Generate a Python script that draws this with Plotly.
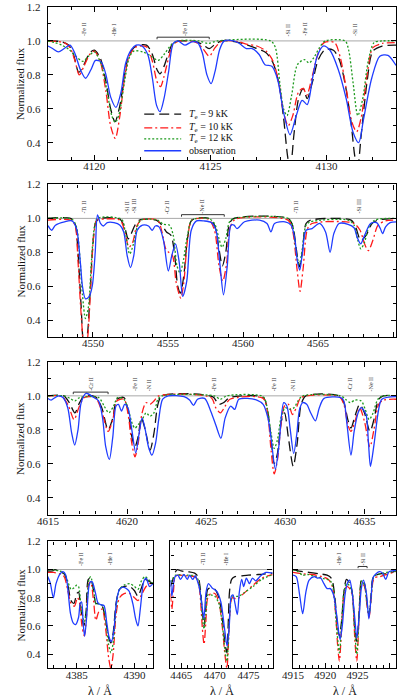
import plotly.graph_objects as go

W, H = 399, 700

# ---- data (wavelength in Angstrom, normalized flux) ----
# panel 1: 4118-4133
P1_OBS = [(4118.0, 0.97), (4118.2, 0.955), (4118.45, 0.935), (4118.7, 0.955), (4118.95, 0.975),
          (4119.15, 0.93), (4119.4, 0.83), (4119.62, 0.78), (4119.85, 0.83), (4120.05, 0.885),
          (4120.3, 0.875), (4120.5, 0.8), (4120.7, 0.67), (4120.93, 0.608), (4121.15, 0.7),
          (4121.35, 0.87), (4121.6, 0.95), (4121.8, 0.975), (4122.05, 0.97), (4122.3, 0.92),
          (4122.5, 0.78), (4122.68, 0.62), (4122.83, 0.583), (4123.0, 0.66), (4123.2, 0.82),
          (4123.4, 0.985), (4123.6, 1.0), (4123.9, 0.975), (4124.2, 0.995), (4124.45, 0.99),
          (4124.65, 0.93), (4124.85, 0.8), (4125.03, 0.748), (4125.2, 0.82), (4125.4, 0.95),
          (4125.6, 1.0), (4126.0, 1.0), (4126.25, 0.985), (4126.55, 0.955), (4126.8, 0.955),
          (4127.1, 0.92), (4127.35, 0.86), (4127.65, 0.85), (4127.9, 0.77), (4128.15, 0.58),
          (4128.43, 0.447), (4128.7, 0.56), (4128.95, 0.65), (4129.17, 0.625), (4129.4, 0.78),
          (4129.6, 0.91), (4129.86, 0.97), (4130.15, 0.945), (4130.5, 0.835), (4130.85, 0.66),
          (4131.15, 0.46), (4131.39, 0.4), (4131.6, 0.54), (4131.95, 0.78), (4132.3, 0.91),
          (4132.65, 0.915), (4133.0, 0.855)]
P1_T9 = [(4118.0, 1.0), (4118.6, 0.995), (4118.9, 0.975), (4119.1, 0.92), (4119.33, 0.815),
         (4119.55, 0.86), (4119.8, 0.93), (4120.0, 0.945), (4120.25, 0.9), (4120.5, 0.76),
         (4120.7, 0.6), (4120.89, 0.524), (4121.1, 0.62), (4121.3, 0.8), (4121.5, 0.92),
         (4121.8, 0.97), (4122.25, 0.975), (4122.5, 0.92), (4122.7, 0.83), (4122.83, 0.806),
         (4123.0, 0.85), (4123.2, 0.93), (4123.4, 0.99), (4123.7, 1.0), (4124.4, 0.995),
         (4124.7, 0.975), (4124.95, 0.955), (4125.2, 0.98), (4125.5, 1.0), (4126.1, 0.995),
         (4126.6, 0.975), (4127.0, 0.955), (4127.4, 0.93), (4127.7, 0.87), (4127.95, 0.75),
         (4128.15, 0.55), (4128.35, 0.3), (4128.45, 0.26), (4128.6, 0.45), (4128.8, 0.66),
         (4129.0, 0.72), (4129.17, 0.66), (4129.4, 0.76), (4129.65, 0.89), (4129.95, 0.95),
         (4130.3, 0.945), (4130.55, 0.89), (4130.8, 0.75), (4131.05, 0.53), (4131.25, 0.3),
         (4131.35, 0.27), (4131.5, 0.45), (4131.75, 0.76), (4132.0, 0.94), (4132.4, 0.97),
         (4133.0, 0.975)]
P1_T10 = [(4118.0, 1.0), (4118.7, 0.99), (4118.95, 0.96), (4119.15, 0.89), (4119.35, 0.8),
          (4119.55, 0.85), (4119.8, 0.92), (4120.0, 0.94), (4120.25, 0.88), (4120.5, 0.7),
          (4120.7, 0.5), (4120.9, 0.425), (4121.1, 0.56), (4121.3, 0.78), (4121.5, 0.91),
          (4121.8, 0.965), (4122.25, 0.965), (4122.5, 0.88), (4122.7, 0.76), (4122.85, 0.73),
          (4123.0, 0.79), (4123.2, 0.9), (4123.4, 0.98), (4123.7, 1.0), (4124.4, 0.99),
          (4124.7, 0.95), (4124.95, 0.91), (4125.2, 0.96), (4125.5, 1.0), (4126.2, 0.995),
          (4126.6, 0.98), (4127.0, 0.97), (4127.4, 0.94), (4127.7, 0.88), (4127.95, 0.75),
          (4128.15, 0.58), (4128.35, 0.5), (4128.55, 0.56), (4128.8, 0.7), (4129.0, 0.72),
          (4129.15, 0.68), (4129.4, 0.8), (4129.65, 0.93), (4129.9, 0.99), (4130.35, 0.99),
          (4130.6, 0.9), (4130.85, 0.72), (4131.1, 0.52), (4131.3, 0.465), (4131.5, 0.55),
          (4131.75, 0.8), (4132.0, 0.96), (4132.4, 0.985), (4133.0, 0.99)]
P1_T12 = [(4118.0, 1.0), (4118.3, 0.99), (4118.6, 0.975), (4118.9, 0.95), (4119.2, 0.91),
          (4119.5, 0.88), (4119.75, 0.91), (4120.0, 0.935), (4120.3, 0.86), (4120.55, 0.7),
          (4120.75, 0.56), (4120.9, 0.52), (4121.05, 0.56), (4121.3, 0.76), (4121.5, 0.9),
          (4121.7, 0.94), (4122.1, 0.935), (4122.45, 0.91), (4122.75, 0.885), (4123.0, 0.92),
          (4123.3, 0.975), (4123.6, 1.0), (4124.5, 1.0), (4124.9, 0.985), (4125.3, 1.0),
          (4127.6, 1.0), (4127.8, 0.96), (4128.0, 0.74), (4128.15, 0.6), (4128.3, 0.56),
          (4128.5, 0.68), (4128.75, 0.86), (4129.05, 0.89), (4129.25, 0.87), (4129.45, 0.9),
          (4129.7, 0.96), (4129.95, 1.0), (4130.8, 1.0), (4130.95, 0.95), (4131.15, 0.75),
          (4131.35, 0.56), (4131.55, 0.65), (4131.8, 0.88), (4132.05, 0.99), (4132.4, 1.0),
          (4133.0, 1.0)]

# panel 2: 4547-4570
P2_OBS = [(4547.0, 0.957), (4547.25, 0.93), (4547.5, 0.96), (4548.1, 0.98), (4548.6, 0.985),
          (4548.9, 0.94), (4549.15, 0.75), (4549.3, 0.6), (4549.5, 0.526), (4549.75, 0.54),
          (4549.95, 0.6), (4550.15, 0.8), (4550.3, 1.02), (4550.5, 0.97), (4550.7, 0.955),
          (4550.95, 0.975), (4551.4, 0.975), (4551.8, 0.96), (4552.05, 0.92), (4552.28, 0.78),
          (4552.5, 0.71), (4552.72, 0.78), (4552.95, 0.93), (4553.3, 0.96), (4553.7, 0.955),
          (4553.95, 0.93), (4554.15, 0.955), (4554.4, 0.95), (4554.7, 0.87), (4555.02, 0.69),
          (4555.25, 0.78), (4555.5, 0.85), (4555.75, 0.74), (4555.98, 0.54), (4556.25, 0.63),
          (4556.55, 0.93), (4556.9, 0.985), (4557.4, 0.985), (4557.9, 0.975), (4558.2, 0.93),
          (4558.45, 0.74), (4558.7, 0.55), (4558.95, 0.72), (4559.2, 0.96), (4559.4, 0.96),
          (4559.6, 0.94), (4560.1, 0.98), (4561.1, 0.99), (4561.6, 0.97), (4561.86, 0.92),
          (4562.1, 0.97), (4562.8, 0.98), (4563.2, 0.96), (4563.45, 0.88), (4563.62, 0.75),
          (4563.78, 0.695), (4563.95, 0.79), (4564.2, 0.93), (4564.6, 0.94), (4565.1, 0.97),
          (4565.5, 0.92), (4565.8, 0.8), (4566.05, 0.91), (4566.4, 0.97), (4567.0, 0.965),
          (4567.4, 0.945), (4567.6, 0.89), (4567.84, 0.85), (4568.1, 0.9), (4568.5, 0.97),
          (4568.9, 0.975), (4569.15, 0.94), (4569.3, 0.91), (4569.5, 0.95), (4569.8, 0.975),
          (4570.2, 0.98)]
P2_T9 = [(4547.0, 1.0), (4548.5, 1.0), (4548.8, 0.97), (4549.0, 0.8), (4549.2, 0.5),
         (4549.4, 0.25), (4549.6, 0.3), (4549.8, 0.55), (4550.0, 0.85), (4550.2, 0.98),
         (4550.5, 1.0), (4551.8, 0.995), (4552.1, 0.95), (4552.35, 0.88), (4552.55, 0.91),
         (4552.8, 0.96), (4553.1, 0.99), (4554.2, 0.99), (4554.6, 0.96), (4554.9, 0.92),
         (4555.2, 0.9), (4555.45, 0.78), (4555.65, 0.6), (4555.83, 0.56), (4556.05, 0.66),
         (4556.3, 0.88), (4556.6, 0.99), (4557.7, 1.0), (4558.1, 0.96), (4558.4, 0.82),
         (4558.62, 0.72), (4558.85, 0.8), (4559.1, 0.97), (4559.4, 1.0), (4563.0, 1.0),
         (4563.3, 0.96), (4563.55, 0.82), (4563.75, 0.715), (4563.95, 0.8), (4564.2, 0.97),
         (4564.5, 0.99), (4567.2, 0.99), (4567.5, 0.95), (4567.85, 0.87), (4568.2, 0.9),
         (4568.6, 0.97), (4569.0, 0.99), (4570.2, 1.0)]
P2_T10 = [(4547.0, 0.99), (4548.5, 0.99), (4548.8, 0.96), (4549.0, 0.75), (4549.2, 0.45),
          (4549.45, 0.2), (4549.65, 0.3), (4549.85, 0.6), (4550.05, 0.9), (4550.25, 0.99),
          (4550.5, 0.995), (4551.8, 0.99), (4552.1, 0.93), (4552.4, 0.83), (4552.65, 0.86),
          (4552.9, 0.95), (4553.2, 0.99), (4554.3, 0.99), (4554.6, 0.92), (4554.85, 0.82),
          (4555.05, 0.8), (4555.3, 0.78), (4555.55, 0.62), (4555.85, 0.53), (4556.05, 0.62),
          (4556.3, 0.87), (4556.6, 0.99), (4557.7, 0.995), (4558.1, 0.93), (4558.4, 0.72),
          (4558.65, 0.63), (4558.9, 0.73), (4559.15, 0.95), (4559.5, 0.995), (4563.0, 0.99),
          (4563.3, 0.93), (4563.6, 0.7), (4563.8, 0.57), (4564.0, 0.7), (4564.3, 0.94),
          (4564.6, 0.97), (4566.9, 0.98), (4567.4, 0.97), (4567.8, 0.93), (4568.1, 0.85),
          (4568.35, 0.81), (4568.65, 0.87), (4569.0, 0.96), (4569.5, 0.985), (4570.2, 0.99)]
P2_T12 = [(4547.0, 1.0), (4548.6, 0.995), (4548.9, 0.95), (4549.1, 0.8), (4549.3, 0.55),
          (4549.5, 0.41), (4549.7, 0.48), (4549.9, 0.75), (4550.1, 0.95), (4550.3, 1.0),
          (4551.9, 0.995), (4552.15, 0.92), (4552.45, 0.79), (4552.7, 0.85), (4552.95, 0.95),
          (4553.2, 0.99), (4554.3, 0.99), (4554.7, 0.965), (4555.1, 0.96), (4555.35, 0.9),
          (4555.6, 0.72), (4555.8, 0.68), (4556.0, 0.74), (4556.3, 0.9), (4556.6, 0.99),
          (4557.7, 1.0), (4558.1, 0.97), (4558.4, 0.88), (4558.6, 0.83), (4558.85, 0.88),
          (4559.1, 0.98), (4559.4, 1.0), (4563.0, 1.0), (4563.3, 0.96), (4563.55, 0.8),
          (4563.75, 0.73), (4563.95, 0.82), (4564.2, 0.96), (4564.5, 0.98), (4567.0, 0.99),
          (4567.4, 0.96), (4567.65, 0.87), (4567.85, 0.82), (4568.1, 0.86), (4568.4, 0.95),
          (4568.8, 0.99), (4570.2, 1.0)]

# panel 3: 4615-4637
P3_OBS = [(4615.0, 0.985), (4615.2, 0.975), (4615.45, 0.99), (4615.7, 1.0), (4615.95, 0.99),
          (4616.25, 0.93), (4616.5, 0.78), (4616.69, 0.71), (4616.9, 0.8), (4617.1, 0.96),
          (4617.4, 1.015), (4617.9, 0.99), (4618.2, 0.97), (4618.45, 0.87), (4618.65, 0.7),
          (4618.88, 0.625), (4619.1, 0.76), (4619.3, 0.94), (4619.45, 0.95), (4619.65, 0.91),
          (4619.85, 0.95), (4620.05, 0.93), (4620.3, 0.8), (4620.55, 0.664), (4620.78, 0.79),
          (4620.95, 0.87), (4621.15, 0.8), (4621.35, 0.7), (4621.57, 0.65), (4621.8, 0.72),
          (4622.0, 0.86), (4622.25, 0.98), (4622.6, 1.0), (4623.6, 0.995), (4623.95, 0.975),
          (4624.2, 0.944), (4624.45, 0.98), (4624.9, 0.985), (4625.3, 0.907), (4625.6, 0.83),
          (4625.93, 0.75), (4626.2, 0.87), (4626.55, 0.94), (4626.8, 0.92), (4627.06, 0.98),
          (4627.6, 0.985), (4628.2, 0.975), (4628.6, 0.95), (4628.9, 0.87), (4629.1, 0.75),
          (4629.37, 0.567), (4629.6, 0.71), (4629.9, 0.96), (4630.1, 0.94), (4630.3, 0.81),
          (4630.53, 0.66), (4630.72, 0.77), (4630.9, 0.92), (4631.1, 0.96), (4631.35, 0.95),
          (4631.6, 0.9), (4631.9, 0.853), (4632.15, 0.93), (4632.45, 0.985), (4633.5, 0.99),
          (4633.7, 0.97), (4633.9, 0.83), (4634.15, 0.65), (4634.35, 0.79), (4634.6, 0.9),
          (4634.8, 0.93), (4635.1, 0.89), (4635.25, 0.73), (4635.38, 0.585), (4635.6, 0.71),
          (4635.9, 0.92), (4636.1, 0.98), (4637.0, 0.995)]
P3_T9 = [(4615.0, 1.0), (4616.0, 1.0), (4616.35, 0.96), (4616.7, 0.9), (4617.0, 0.96),
         (4617.3, 1.0), (4618.0, 0.995), (4618.4, 0.93), (4618.8, 0.8), (4619.1, 0.87),
         (4619.35, 0.98), (4619.8, 0.99), (4620.05, 0.92), (4620.3, 0.76), (4620.5, 0.7),
         (4620.7, 0.76), (4620.9, 0.87), (4621.15, 0.8), (4621.45, 0.68), (4621.7, 0.78),
         (4621.95, 0.95), (4622.2, 1.0), (4625.4, 0.995), (4625.8, 0.95), (4626.1, 0.96),
         (4626.5, 0.99), (4628.6, 0.99), (4628.9, 0.9), (4629.15, 0.7), (4629.3, 0.6),
         (4629.5, 0.66), (4629.75, 0.85), (4629.95, 0.9), (4630.2, 0.75), (4630.5, 0.585),
         (4630.75, 0.72), (4631.0, 0.95), (4631.3, 1.0), (4633.4, 1.0), (4633.7, 0.96),
         (4633.95, 0.86), (4634.15, 0.81), (4634.4, 0.88), (4634.7, 0.95), (4635.0, 0.9),
         (4635.35, 0.79), (4635.6, 0.86), (4635.9, 0.98), (4636.2, 1.0), (4637.0, 1.0)]
P3_T10 = [(4615.0, 1.0), (4615.9, 0.995), (4616.3, 0.94), (4616.65, 0.86), (4616.95, 0.93),
          (4617.3, 0.99), (4618.0, 0.99), (4618.4, 0.91), (4618.8, 0.79), (4619.1, 0.86),
          (4619.35, 0.97), (4619.8, 0.98), (4620.05, 0.9), (4620.3, 0.72), (4620.5, 0.64),
          (4620.7, 0.72), (4620.95, 0.9), (4621.2, 0.96), (4621.45, 0.95), (4621.7, 0.97),
          (4622.0, 1.0), (4625.3, 0.99), (4625.6, 0.93), (4625.9, 0.9), (4626.2, 0.94),
          (4626.5, 0.98), (4628.6, 0.985), (4628.9, 0.88), (4629.1, 0.68), (4629.3, 0.54),
          (4629.5, 0.62), (4629.75, 0.85), (4629.95, 0.94), (4630.2, 0.95), (4630.45, 0.89),
          (4630.7, 0.93), (4631.0, 0.99), (4633.4, 0.995), (4633.7, 0.95), (4633.95, 0.83),
          (4634.15, 0.79), (4634.4, 0.85), (4634.7, 0.93), (4635.0, 0.85), (4635.35, 0.7),
          (4635.6, 0.8), (4635.9, 0.95), (4636.2, 0.975), (4637.0, 0.98)]
P3_T12 = [(4615.0, 1.0), (4616.0, 1.0), (4616.4, 0.985), (4616.7, 0.97), (4617.0, 0.99),
          (4618.2, 0.99), (4618.55, 0.94), (4618.85, 0.9), (4619.15, 0.94), (4619.4, 0.99),
          (4619.8, 0.98), (4620.1, 0.91), (4620.35, 0.83), (4620.5, 0.81), (4620.7, 0.83),
          (4620.95, 0.86), (4621.2, 0.9), (4621.45, 0.88), (4621.7, 0.9), (4621.95, 0.98),
          (4622.2, 1.0), (4625.5, 1.0), (4625.9, 0.98), (4626.3, 1.0), (4628.6, 0.995),
          (4628.85, 0.93), (4629.1, 0.78), (4629.3, 0.69), (4629.5, 0.74), (4629.75, 0.88),
          (4630.0, 0.93), (4630.3, 0.92), (4630.55, 0.93), (4630.8, 0.97), (4631.1, 1.0),
          (4633.5, 1.0), (4633.8, 0.98), (4634.1, 0.96), (4634.4, 0.975), (4634.8, 0.97),
          (4635.05, 0.92), (4635.3, 0.86), (4635.55, 0.9), (4635.85, 0.98), (4636.2, 1.0),
          (4637.0, 1.0)]

# panel 4a: 4382.5-4391.6
P4A_OBS = [(4382.48, 0.95), (4382.7, 0.906), (4382.97, 0.8), (4383.2, 0.9), (4383.55, 0.97),
           (4383.8, 0.985), (4384.05, 0.96), (4384.26, 0.83), (4384.45, 0.69), (4384.7, 0.62),
           (4384.9, 0.61), (4385.15, 0.66), (4385.3, 0.76), (4385.42, 0.77), (4385.55, 0.62),
           (4385.68, 0.527), (4385.85, 0.66), (4386.05, 0.88), (4386.2, 0.915), (4386.35, 0.91),
           (4386.6, 0.84), (4386.85, 0.76), (4387.1, 0.75), (4387.35, 0.745), (4387.6, 0.62),
           (4387.8, 0.52), (4388.0, 0.49), (4388.2, 0.56), (4388.45, 0.78), (4388.7, 0.86),
           (4389.0, 0.876), (4389.5, 0.85), (4389.85, 0.76), (4390.1, 0.65), (4390.3, 0.6),
           (4390.5, 0.72), (4390.8, 0.915), (4391.0, 0.94), (4391.3, 0.88), (4391.6, 0.9)]
P4A_T9 = [(4382.5, 0.99), (4382.9, 0.99), (4383.1, 1.0), (4383.5, 0.985), (4383.9, 0.97),
          (4384.2, 0.9), (4384.5, 0.78), (4384.75, 0.76), (4385.0, 0.83), (4385.15, 0.84),
          (4385.35, 0.72), (4385.6, 0.6), (4385.8, 0.7), (4386.0, 0.93), (4386.2, 0.94),
          (4386.45, 0.85), (4386.65, 0.76), (4386.9, 0.76), (4387.2, 0.74), (4387.5, 0.64),
          (4387.75, 0.52), (4387.95, 0.48), (4388.15, 0.55), (4388.4, 0.76), (4388.7, 0.86),
          (4389.1, 0.88), (4389.6, 0.88), (4390.0, 0.85), (4390.3, 0.81), (4390.6, 0.87),
          (4390.9, 0.93), (4391.2, 0.92), (4391.6, 0.9)]
P4A_T10 = [(4382.5, 0.98), (4383.0, 0.98), (4383.5, 0.97), (4383.9, 0.95), (4384.2, 0.86),
           (4384.5, 0.76), (4384.8, 0.74), (4385.05, 0.8), (4385.2, 0.78), (4385.45, 0.6),
           (4385.65, 0.53), (4385.85, 0.68), (4386.05, 0.9), (4386.2, 0.91), (4386.45, 0.78),
           (4386.65, 0.64), (4386.9, 0.7), (4387.2, 0.72), (4387.5, 0.58), (4387.75, 0.38),
           (4387.95, 0.3), (4388.15, 0.4), (4388.4, 0.68), (4388.7, 0.8), (4389.1, 0.83),
           (4389.6, 0.83), (4390.0, 0.8), (4390.3, 0.78), (4390.6, 0.82), (4391.0, 0.88),
           (4391.3, 0.9), (4391.6, 0.89)]
P4A_T12 = [(4382.5, 1.0), (4383.5, 0.99), (4383.9, 0.975), (4384.2, 0.92), (4384.5, 0.86),
           (4384.75, 0.87), (4385.0, 0.89), (4385.15, 0.88), (4385.4, 0.72), (4385.65, 0.63),
           (4385.85, 0.72), (4386.05, 0.93), (4386.2, 0.95), (4386.45, 0.86), (4386.7, 0.75),
           (4386.95, 0.76), (4387.25, 0.74), (4387.5, 0.64), (4387.75, 0.47), (4387.95, 0.41),
           (4388.15, 0.48), (4388.4, 0.72), (4388.7, 0.86), (4389.1, 0.89), (4389.6, 0.9),
           (4390.0, 0.88), (4390.3, 0.86), (4390.6, 0.92), (4390.9, 0.95), (4391.2, 0.93),
           (4391.6, 0.9)]

# panel 4b: 4463.4-4478.6
P4B_OBS = [(4463.4, 0.927), (4463.6, 0.81), (4463.85, 0.9), (4464.1, 0.95), (4464.5, 0.96),
           (4464.9, 0.93), (4465.4, 0.965), (4465.9, 0.93), (4466.25, 0.96), (4466.7, 0.93),
           (4467.1, 0.955), (4467.4, 0.92), (4467.75, 0.86), (4468.05, 0.76), (4468.37, 0.656),
           (4468.7, 0.84), (4469.05, 0.9), (4469.6, 0.87), (4470.3, 0.845), (4470.9, 0.77),
           (4471.4, 0.6), (4471.83, 0.457), (4472.15, 0.6), (4472.45, 0.81), (4472.7, 0.82),
           (4473.0, 0.76), (4473.35, 0.68), (4473.65, 0.84), (4474.0, 0.93), (4474.3, 0.88),
           (4474.7, 0.94), (4475.15, 0.9), (4475.6, 0.94), (4476.1, 0.92), (4476.7, 0.95),
           (4477.6, 0.98), (4478.6, 0.975)]
P4B_T9 = [(4463.4, 0.88), (4463.7, 0.92), (4464.1, 0.98), (4464.4, 1.0), (4465.0, 0.99),
          (4466.0, 0.985), (4467.0, 0.975), (4467.5, 0.95), (4467.85, 0.86), (4468.15, 0.7),
          (4468.4, 0.6), (4468.65, 0.72), (4468.95, 0.86), (4469.4, 0.87), (4470.0, 0.86),
          (4470.6, 0.8), (4471.1, 0.66), (4471.5, 0.48), (4471.8, 0.41), (4472.0, 0.62),
          (4472.2, 0.85), (4472.5, 0.93), (4473.0, 0.95), (4474.0, 0.955), (4475.0, 0.96),
          (4476.5, 0.965), (4478.6, 0.975)]
P4B_T10 = [(4463.4, 0.83), (4463.6, 0.72), (4463.85, 0.85), (4464.1, 0.95), (4464.5, 0.96),
           (4466.0, 0.955), (4467.0, 0.95), (4467.5, 0.92), (4467.85, 0.8), (4468.15, 0.58),
           (4468.4, 0.47), (4468.65, 0.62), (4468.95, 0.8), (4469.4, 0.83), (4470.0, 0.83),
           (4470.6, 0.77), (4471.1, 0.6), (4471.5, 0.4), (4471.8, 0.3), (4472.0, 0.45),
           (4472.25, 0.7), (4472.6, 0.8), (4473.3, 0.79), (4474.3, 0.83), (4475.7, 0.89),
           (4477.0, 0.94), (4478.6, 0.965)]
P4B_T12 = [(4463.4, 0.91), (4463.8, 0.94), (4464.1, 0.96), (4466.0, 0.96), (4467.0, 0.955),
           (4467.5, 0.93), (4467.85, 0.84), (4468.15, 0.66), (4468.4, 0.58), (4468.65, 0.68),
           (4468.95, 0.82), (4469.4, 0.82), (4470.0, 0.81), (4470.6, 0.76), (4471.1, 0.62),
           (4471.5, 0.43), (4471.8, 0.35), (4472.0, 0.47), (4472.25, 0.7), (4472.6, 0.81),
           (4473.5, 0.81), (4474.5, 0.84), (4475.7, 0.88), (4477.0, 0.93), (4478.6, 0.965)]

# panel 4c: 4915-4931
P4C_OBS = [(4915.0, 0.96), (4915.5, 0.95), (4916.0, 0.83), (4916.5, 0.687), (4917.0, 0.84),
           (4917.5, 0.925), (4918.3, 0.95), (4918.8, 0.94), (4919.3, 0.94), (4919.8, 0.9),
           (4920.3, 0.865), (4920.8, 0.865), (4921.3, 0.82), (4921.8, 0.67), (4922.3, 0.504),
           (4922.65, 0.6), (4923.1, 0.83), (4923.5, 0.91), (4923.8, 0.925), (4924.2, 0.83),
           (4924.6, 0.65), (4924.9, 0.515), (4925.3, 0.69), (4925.6, 0.865), (4925.95, 0.925),
           (4926.4, 0.83), (4926.77, 0.65), (4927.1, 0.79), (4927.5, 0.95), (4928.4, 0.985),
           (4928.9, 0.975), (4929.4, 0.93), (4929.9, 0.985), (4931.0, 0.995)]
P4C_T9 = [(4915.0, 1.0), (4916.5, 0.985), (4917.5, 0.98), (4919.0, 0.97), (4920.3, 0.96),
          (4921.0, 0.935), (4921.5, 0.8), (4921.9, 0.6), (4922.2, 0.53), (4922.55, 0.64),
          (4922.95, 0.86), (4923.3, 0.93), (4923.7, 0.91), (4924.15, 0.85), (4924.55, 0.6),
          (4924.9, 0.49), (4925.25, 0.69), (4925.65, 0.93), (4926.1, 0.9), (4926.45, 0.78),
          (4926.8, 0.68), (4927.1, 0.81), (4927.5, 0.95), (4928.5, 0.97), (4929.5, 0.97),
          (4931.0, 0.99)]
P4C_T10 = [(4915.0, 0.98), (4916.5, 0.97), (4918.0, 0.965), (4919.5, 0.95), (4920.5, 0.93),
           (4921.1, 0.88), (4921.6, 0.7), (4921.95, 0.45), (4922.2, 0.35), (4922.5, 0.55),
           (4922.9, 0.82), (4923.3, 0.88), (4923.7, 0.87), (4924.2, 0.82), (4924.6, 0.5),
           (4924.9, 0.35), (4925.25, 0.65), (4925.65, 0.9), (4926.1, 0.88), (4926.45, 0.76),
           (4926.8, 0.66), (4927.15, 0.8), (4927.6, 0.94), (4928.5, 0.95), (4929.5, 0.965),
           (4931.0, 0.985)]
P4C_T12 = [(4915.0, 1.0), (4915.8, 0.985), (4916.5, 0.96), (4917.3, 0.965), (4918.5, 0.95),
           (4919.8, 0.935), (4920.8, 0.92), (4921.3, 0.85), (4921.75, 0.6), (4922.2, 0.41),
           (4922.5, 0.58), (4922.9, 0.84), (4923.3, 0.9), (4923.7, 0.89), (4924.2, 0.83),
           (4924.6, 0.55), (4924.9, 0.4), (4925.25, 0.66), (4925.65, 0.92), (4926.1, 0.89),
           (4926.45, 0.77), (4926.8, 0.68), (4927.15, 0.81), (4927.55, 0.95), (4928.5, 0.97),
           (4931.0, 0.99)]

# line identifications (wavelength, ion) and bracket spans
LINES_1 = [(4119.55, "Fe II"), (4120.83, "He I"), (4123.9, "Fe II"), (4128.33, "Si II"),
           (4129.1, "Fe II"), (4131.2, "Si II")]
BRACKETS_1 = [(4122.7, 4124.95)]
LINES_2 = [(4549.42, "Ti II"), (4552.3, "Si II"), (4552.74, "Si III"), (4554.9, "Cr II"),
           (4557.3, "Ne II"), (4563.55, "Ti II"), (4567.75, "Si III")]
BRACKETS_2 = [(4555.9, 4558.75)]
LINES_3 = [(4617.7, "Cr II"), (4620.5, "Fe II"), (4621.4, "N II"), (4625.5, "Fe II"),
           (4629.3, "Fe II"), (4630.5, "N II"), (4634.1, "Cr II"), (4635.4, "Ne II")]
BRACKETS_3 = [(4616.6, 4618.8)]
LINES_4A = [(4385.4, "Fe II"), (4387.9, "He I")]
LINES_4B = [(4468.3, "Ti II"), (4471.6, "He I")]
LINES_4C = [(4922.2, "He I"), (4925.8, "Si II")]
BRACKETS_4C = [(4925.1, 4926.5)]

LEGEND_LABELS = ["<i>T</i><sub>e</sub> = 9 kK", "<i>T</i><sub>e</sub> = 10 kK",
                 "<i>T</i><sub>e</sub> = 12 kK", "observation"]

X_RANGES = [(4118.0, 4133.0), (4547.0, 4570.2), (4615.0, 4637.0),
            (4382.5, 4391.6), (4463.4, 4478.6), (4915.0, 4931.0)]
Y_RANGE = (0.3, 1.2)

# ---- layout helpers ----
# panel boxes in pixels: left, right, top, bottom
BOXES = [(38, 396, 1, 155), (38, 396, 180, 334), (38, 396, 359, 513),
         (38, 146, 540, 668), (164, 269, 540, 668), (290, 396, 540, 668)]

FONT = "Liberation Serif, Times New Roman, serif"
STYLES = [dict(color="#111111", dash="10px,5px"),
          dict(color="#ff1a1a", dash="8px,3px,2px,3px"),
          dict(color="#1d9a1d", dash="2px,2px"),
          dict(color="#1f3cff", dash="solid")]


def fx(px):
    return px / W


def fy(py):
    return 1 - py / H


panels = [
    (P1_T9, P1_T10, P1_T12, P1_OBS, LINES_1, BRACKETS_1),
    (P2_T9, P2_T10, P2_T12, P2_OBS, LINES_2, BRACKETS_2),
    (P3_T9, P3_T10, P3_T12, P3_OBS, LINES_3, BRACKETS_3),
    (P4A_T9, P4A_T10, P4A_T12, P4A_OBS, LINES_4A, []),
    (P4B_T9, P4B_T10, P4B_T12, P4B_OBS, LINES_4B, []),
    (P4C_T9, P4C_T10, P4C_T12, P4C_OBS, LINES_4C, BRACKETS_4C),
]

fig = go.Figure()
shapes = []
annotations = []
layout = {}

for i, (t9, t10, t12, obs, lines, brackets) in enumerate(panels, start=1):
    sfx = "" if i == 1 else str(i)
    xr, yr = "x" + sfx, "y" + sfx
    for series, st in zip([t9, t10, t12, obs], STYLES):
        fig.add_trace(go.Scatter(
            x=[p[0] for p in series], y=[p[1] for p in series],
            mode="lines", xaxis=xr, yaxis=yr, showlegend=False,
            line=dict(color=st["color"], dash=st["dash"], width=1.3,
                      shape="spline", smoothing=0.8),
            hoverinfo="skip"))

    l, r, t, b = BOXES[i - 1]
    axis_common = dict(showline=True, linecolor="black", linewidth=1.3, mirror="ticks",
                       ticks="inside", tickcolor="black", tickwidth=1, showgrid=False,
                       zeroline=False, tickfont=dict(size=11, color="#222"))
    layout["xaxis" + sfx] = dict(
        axis_common, domain=[fx(l), fx(r)], anchor=yr, range=list(X_RANGES[i - 1]),
        tick0=0, dtick=5, ticklen=5, ticklabelstandoff=-4,
        minor=dict(ticks="inside", dtick=1, ticklen=3, tickcolor="black"))
    layout["yaxis" + sfx] = dict(
        axis_common, domain=[fy(b), fy(t)], anchor=xr, range=list(Y_RANGE),
        tick0=0.4, dtick=0.2, ticklen=5, tickformat=".1f", ticklabelstandoff=4,
        showticklabels=(i <= 4),
        minor=dict(ticks="inside", dtick=0.1, ticklen=3, tickcolor="black"))

    # continuum reference
    shapes.append(dict(type="line", xref=xr + " domain", yref=yr, x0=0, x1=1, y0=1.0, y1=1.0,
                       line=dict(color="#a8a8a8", width=1), layer="below"))
    for a, c in brackets:
        shapes.append(dict(type="path", xref=xr, yref=yr,
                           path=f"M {a},1.01 L {a},1.022 L {c},1.022 L {c},1.01",
                           line=dict(color="#333", width=1)))
    for wl, ion in lines:
        annotations.append(dict(x=wl, y=1.022, xref=xr, yref=yr, text="-" + ion,
                                textangle=-90, showarrow=False, xanchor="center",
                                yanchor="bottom", borderpad=0,
                                font=dict(size=6, color="#333")))
    if i <= 4:
        annotations.append(dict(x=fx(10), y=fy((t + b) / 2), xref="paper", yref="paper",
                                text="Normalized flux", textangle=-90, showarrow=False,
                                xanchor="center", yanchor="middle",
                                font=dict(size=11, color="#111")))
    if i >= 4:
        annotations.append(dict(x=fx((l + r) / 2), y=fy(691), xref="paper", yref="paper",
                                text="λ / Å", showarrow=False,
                                xanchor="center", yanchor="middle",
                                font=dict(size=12, color="#111")))

# hand-made legend in the first panel
LEG_Y = [109, 123, 134, 146]
for label, st, py in zip(LEGEND_LABELS, STYLES, LEG_Y):
    shapes.append(dict(type="line", xref="paper", yref="paper", x0=fx(137), x1=fx(175),
                       y0=fy(py), y1=fy(py),
                       line=dict(color=st["color"], dash=st["dash"], width=1.3)))
    annotations.append(dict(x=fx(181), y=fy(py), xref="paper", yref="paper", text=label,
                            showarrow=False, xanchor="left", yanchor="middle",
                            font=dict(size=10, color="#111")))

fig.update_layout(
    width=W, height=H, margin=dict(l=0, r=0, t=0, b=0),
    paper_bgcolor="white", plot_bgcolor="white",
    font=dict(family=FONT, color="#111"),
    shapes=shapes, annotations=annotations, showlegend=False,
    **layout)

# drop the browser's default page margin so the figure sits at the window origin
fig.write_html("out.html", config={"displayModeBar": False},
               post_script="document.body.style.margin='0';")
